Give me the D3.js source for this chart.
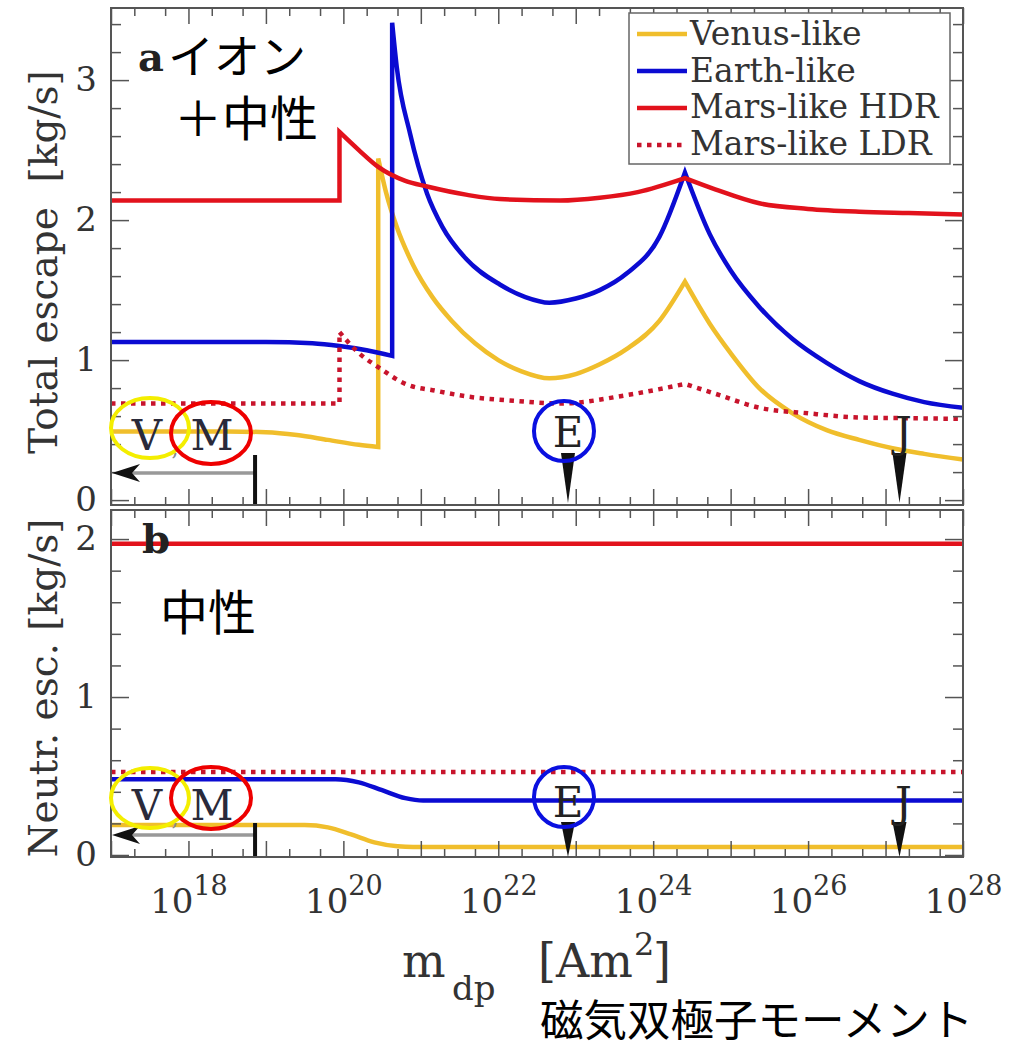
<!DOCTYPE html>
<html>
<head>
<meta charset="utf-8">
<script src="https://cdn.jsdelivr.net/npm/d3@7"></script>
<style>
  body { margin: 0; background: #fff; }
  text { white-space: pre; }
</style>
</head>
<body>
<svg width="1013" height="1048"></svg>
<script>
// x values are log10 of the dipole moment m_dp [Am^2]
// panel a: total escape (ions + neutrals) [kg/s]
const venusTotal = [[17,0.49],[18.5,0.49],[19.0,0.485],[19.4,0.465],[19.8,0.43],[20.2,0.395],[20.45,0.38],
  [20.45,2.44],[20.55,2.2],[20.69,1.95],[20.9,1.68],[21.15,1.45],[21.4,1.28],[21.7,1.12],[22.0,1.0],
  [22.3,0.92],[22.66,0.87],[23.0,0.9],[23.31,0.97],[23.66,1.08],[24.08,1.28],[24.41,1.56],[24.73,1.26],
  [25.0,1.05],[25.37,0.8],[25.8,0.62],[26.24,0.5],[26.66,0.43],[27.09,0.37],[27.5,0.33],[28,0.29]];
const earthTotal = [[17,1.13],[19.0,1.13],[19.6,1.12],[19.95,1.1],[20.3,1.07],[20.63,1.03],
  [20.63,3.41],[20.69,3.09],[20.86,2.62],[21.08,2.19],[21.28,1.95],[21.59,1.72],[22.02,1.54],[22.35,1.45],
  [22.66,1.41],[23.0,1.44],[23.31,1.5],[23.66,1.62],[24.08,1.88],[24.41,2.34],[24.73,1.9],[25.0,1.64],
  [25.37,1.38],[25.8,1.15],[26.24,0.98],[26.66,0.85],[27.09,0.76],[27.5,0.7],[28,0.66]];
const marsHdrTotal = [[17,2.14],[19.95,2.14],[19.95,2.63],[20.2,2.5],[20.45,2.38],[20.8,2.28],[21.08,2.24],
  [21.6,2.18],[22.02,2.15],[22.8,2.14],[23.31,2.16],[23.8,2.2],[24.41,2.3],[24.8,2.22],[25.37,2.12],
  [26.0,2.08],[26.66,2.06],[27.3,2.05],[28,2.04]];
const marsLdrTotal = [[17,0.69],[19.95,0.69],[19.95,1.2],[20.2,1.05],[20.45,0.95],[20.8,0.83],[21.2,0.78],
  [21.6,0.74],[22.2,0.71],[22.8,0.69],[23.66,0.75],[24.41,0.83],[24.8,0.76],[25.37,0.66],[26.0,0.62],
  [26.66,0.59],[27.3,0.585],[28,0.58]];

// panel b: neutral escape [kg/s]
const venusNeutral = [[17,0.19],[19.5,0.19],[19.8,0.175],[20.1,0.13],[20.4,0.08],[20.7,0.055],[20.9,0.05],[28,0.05]];
const earthNeutral = [[17,0.48],[19.9,0.48],[20.2,0.46],[20.5,0.41],[20.8,0.36],[21.03,0.345],[28,0.345]];
const marsHdrNeutral = [[17,1.97],[28,1.97]];
const marsLdrNeutral = [[17,0.525],[28,0.525]];

// sharp peaks (no smoothing across them)
const cusps = [24.41];

const seriesNames = ["Venus-like", "Earth-like", "Mars-like HDR", "Mars-like LDR"];
const seriesColors = ["#f0be2c", "#0b0bd2", "#e2121c", "#c8142c"];
const seriesDash = [null, null, null, "4.5 5.5"];

// planets' present dipole moments (log10) and the upper limit for Venus/Mars
const planetMarks = [{ label: "E", m: 22.9 }, { label: "J", m: 27.18 }];
const upperLimit = 18.86;

const yTicksA = [0, 1, 2, 3];
const yTicksB = [0, 1, 2];
const xLabelExps = [18, 20, 22, 24, 26, 28];

const serif = "DejaVu Serif";
const jp = "Noto Sans CJK JP";
const left = 111, right = 963;

const svg = d3.select("svg");

const x = d3.scaleLog().domain([1e17, 1e28]).range([left, right]);
const yA = d3.scaleLinear().domain([-0.035, 3.515]).range([505, 8]);
const yB = d3.scaleLinear().domain([-0.0127, 2.184]).range([857, 510]);

// tick value lists
const decades = d3.range(17, 29).map(e => Math.pow(10, e));
const minorX = [];
d3.range(17, 28).forEach(e => { minorX.push(2 * Math.pow(10, e), 5 * Math.pow(10, e)); });

function minorY(max) {
  return d3.range(0, max + 0.001, 0.2).filter(v => Math.abs(v - Math.round(v)) > 0.01);
}

function styleAxis(g) {
  g.select(".domain").remove();
  g.attr("color", "#555").attr("font-family", serif).attr("font-size", 34);
  g.selectAll("line").attr("stroke-width", 1.5);
  g.selectAll("text").attr("fill", "#333");
}

// draw a series: split at jumps (repeated x) and cusps, smooth inside the pieces
function seriesPath(data, y) {
  const segs = [];
  let cur = [data[0]];
  for (let i = 1; i < data.length; i++) {
    const d = data[i], p = data[i - 1];
    if (d[0] === p[0]) { segs.push(cur); cur = [d]; }
    else if (i > 1 && cusps.includes(p[0])) { segs.push(cur); cur = [p, d]; }
    else cur.push(d);
  }
  segs.push(cur);
  const line = d3.line()
    .x(d => x(Math.pow(10, d[0])))
    .y(d => y(d[1]))
    .curve(d3.curveMonotoneX);
  return segs.map((s, i) => { const p = line(s); return i ? "L" + p.slice(1) : p; }).join("");
}

const panels = [
  { y: yA, top: 8, bottom: 505, yTicks: yTicksA, ymax: 3.4,
    data: [venusTotal, earthTotal, marsHdrTotal, marsLdrTotal],
    title: "Total escape  [kg/s]", titleY: 262,
    letterBase: 450, arrowY: 473, barTop: 455, triTop: 453, triTip: 503,
    ellY: [428, 433], circleY: 431, xLabels: false },
  { y: yB, top: 510, bottom: 857, yTicks: yTicksB, ymax: 2.1,
    data: [venusNeutral, earthNeutral, marsHdrNeutral, marsLdrNeutral],
    title: "Neutr. esc. [kg/s]", titleY: 688,
    letterBase: 820, arrowY: 835, barTop: 823, triTop: 822, triTip: 857,
    ellY: [798, 798], circleY: 797, xLabels: true }
];

panels.forEach(p => {
  const g = svg.append("g");

  // curves
  p.data.forEach((d, i) => {
    g.append("path")
      .attr("d", seriesPath(d, p.y))
      .attr("fill", "none")
      .attr("stroke", seriesColors[i])
      .attr("stroke-width", 4.5)
      .attr("stroke-dasharray", seriesDash[i])
      .attr("stroke-linejoin", "miter");
  });

  // frame
  g.append("rect")
    .attr("x", left).attr("y", p.top)
    .attr("width", right - left).attr("height", p.bottom - p.top)
    .attr("fill", "none").attr("stroke", "#555").attr("stroke-width", 2);

  // y axis (left: labelled, ticks inside) and mirrored right axis
  g.append("g").attr("transform", `translate(${left},0)`)
    .call(d3.axisLeft(p.y).tickValues(p.yTicks).tickSize(-18).tickPadding(14).tickFormat(d3.format("d")))
    .call(styleAxis);
  g.append("g").attr("transform", `translate(${left},0)`)
    .call(d3.axisLeft(p.y).tickValues(minorY(p.ymax)).tickSize(-10).tickFormat(""))
    .call(styleAxis);
  g.append("g").attr("transform", `translate(${right},0)`)
    .call(d3.axisRight(p.y).tickValues(p.yTicks).tickSize(-18).tickFormat(""))
    .call(styleAxis);
  g.append("g").attr("transform", `translate(${right},0)`)
    .call(d3.axisRight(p.y).tickValues(minorY(p.ymax)).tickSize(-10).tickFormat(""))
    .call(styleAxis);

  // x ticks on both edges
  g.append("g").attr("transform", `translate(0,${p.top})`)
    .call(d3.axisTop(x).tickValues(decades).tickSize(-16).tickFormat(""))
    .call(styleAxis);
  g.append("g").attr("transform", `translate(0,${p.top})`)
    .call(d3.axisTop(x).tickValues(minorX).tickSize(-8).tickFormat(""))
    .call(styleAxis);
  g.append("g").attr("transform", `translate(0,${p.bottom})`)
    .call(d3.axisBottom(x).tickValues(minorX).tickSize(-8).tickFormat(""))
    .call(styleAxis);
  const xb = g.append("g").attr("transform", `translate(0,${p.bottom})`)
    .call(d3.axisBottom(x).tickValues(decades).tickSize(-16).tickPadding(32)
      .tickFormat(d => (p.xLabels && xLabelExps.includes(Math.round(Math.log10(d)))) ? "10" : ""))
    .call(styleAxis);
  if (p.xLabels) {
    xb.selectAll("text").filter(function () { return this.textContent === "10"; })
      .each(function (d) {
        d3.select(this).append("tspan")
          .attr("dy", -18).attr("font-size", 27)
          .text(Math.round(Math.log10(d)));
      });
  }

  // y title
  svg.append("text")
    .attr("transform", `translate(57,${p.titleY}) rotate(-90)`)
    .attr("text-anchor", "middle")
    .attr("font-family", serif).attr("font-size", 39).attr("fill", "#333")
    .text(p.title);

  // upper limit for Venus / Mars: arrow to the left and bar
  const xl = x(Math.pow(10, upperLimit));
  g.append("line")
    .attr("x1", left + 10).attr("x2", xl).attr("y1", p.arrowY).attr("y2", p.arrowY)
    .attr("stroke", "#999").attr("stroke-width", 3.5);
  g.append("path")
    .attr("d", `M${left + 1},${p.arrowY} L${left + 29},${p.arrowY - 9} L${left + 21},${p.arrowY} L${left + 29},${p.arrowY + 9} Z`)
    .attr("fill", "#111");
  g.append("line")
    .attr("x1", xl).attr("x2", xl).attr("y1", p.barTop).attr("y2", p.bottom - 1)
    .attr("stroke", "#111").attr("stroke-width", 4);

  // V , M labels with coloured rings
  g.append("text").attr("x", 147).attr("y", p.letterBase).attr("text-anchor", "middle")
    .attr("font-family", serif).attr("font-size", 42).attr("fill", "#2a2a3a").text("V");
  g.append("text").attr("x", 175).attr("y", p.letterBase + 6).attr("text-anchor", "middle")
    .attr("font-family", serif).attr("font-size", 22).attr("fill", "#888").text(",");
  g.append("text").attr("x", 212).attr("y", p.letterBase).attr("text-anchor", "middle")
    .attr("font-family", serif).attr("font-size", 42).attr("fill", "#2a2a3a").text("M");
  g.append("ellipse").attr("cx", 150).attr("cy", p.ellY[0]).attr("rx", 39).attr("ry", 30)
    .attr("fill", "none").attr("stroke", "#f4ee00").attr("stroke-width", 4);
  g.append("ellipse").attr("cx", 211).attr("cy", p.ellY[1]).attr("rx", 40).attr("ry", 31)
    .attr("fill", "none").attr("stroke", "#ee0000").attr("stroke-width", 4);

  // E and J markers
  planetMarks.forEach(m => {
    const xm = x(Math.pow(10, m.m));
    g.append("path")
      .attr("d", `M${xm - 7},${p.triTop} L${xm + 7},${p.triTop} L${xm},${p.triTip} Z`)
      .attr("fill", "#111");
    g.append("text").attr("x", xm + (m.label === "J" ? 4 : 0)).attr("y", p.letterBase - 3)
      .attr("text-anchor", "middle")
      .attr("font-family", serif).attr("font-size", 42).attr("fill", "#222").text(m.label);
  });
  g.append("circle").attr("cx", x(Math.pow(10, planetMarks[0].m)) - 4).attr("cy", p.circleY).attr("r", 30)
    .attr("fill", "none").attr("stroke", "#0a10e0").attr("stroke-width", 4);
});

// legend
const lg = svg.append("g");
lg.append("rect").attr("x", 629).attr("y", 13).attr("width", 321).attr("height", 151)
  .attr("fill", "#fff").attr("stroke", "#666").attr("stroke-width", 1.5);
seriesNames.forEach((name, i) => {
  lg.append("line")
    .attr("x1", 637).attr("x2", 687).attr("y1", 34 + i * 37).attr("y2", 34 + i * 37)
    .attr("stroke", seriesColors[i]).attr("stroke-width", 4.5)
    .attr("stroke-dasharray", seriesDash[i]);
  lg.append("text")
    .attr("x", 690).attr("y", 45 + i * 36.5)
    .attr("font-family", serif).attr("font-size", 33).attr("fill", "#333")
    .text(name);
});

// panel letters and Japanese notes
svg.append("text").attr("x", 138).attr("y", 71)
  .attr("font-family", serif).attr("font-weight", "bold").attr("font-size", 40).attr("fill", "#222").text("a");
svg.append("text").attr("x", 168).attr("y", 73)
  .attr("font-family", jp).attr("font-size", 46).attr("fill", "#000").text("イオン");
svg.append("text").attr("x", 174).attr("y", 136)
  .attr("font-family", jp).attr("font-size", 48).attr("fill", "#000").text("＋中性");
svg.append("text").attr("x", 142).attr("y", 553)
  .attr("font-family", serif).attr("font-weight", "bold").attr("font-size", 40).attr("fill", "#222").text("b");
svg.append("text").attr("x", 160).attr("y", 630)
  .attr("font-family", jp).attr("font-size", 48).attr("fill", "#000").text("中性");

// x axis title
const xt = svg.append("g").attr("font-family", serif).attr("fill", "#333");
xt.append("text").attr("x", 402).attr("y", 977).attr("font-size", 46).text("m");
xt.append("text").attr("x", 452).attr("y", 1000).attr("font-size", 34).text("dp");
xt.append("text").attr("x", 538).attr("y", 977).attr("font-size", 46).text("[Am");
xt.append("text").attr("x", 634).attr("y", 955).attr("font-size", 32).text("2");
xt.append("text").attr("x", 653).attr("y", 977).attr("font-size", 46).text("]");
svg.append("text").attr("x", 540).attr("y", 1036)
  .attr("font-family", jp).attr("font-size", 43.5).attr("fill", "#000").text("磁気双極子モーメント");
</script>
</body>
</html>
